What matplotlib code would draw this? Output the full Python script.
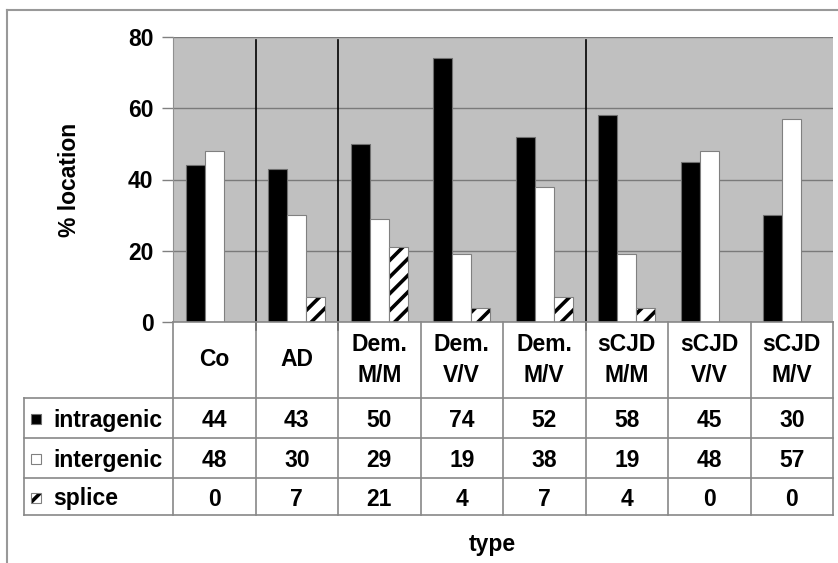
import matplotlib.pyplot as plt
import numpy as np

plt.rcParams['font.family'] = ['Liberation Sans', 'DejaVu Sans']
plt.rcParams['font.weight'] = 'bold'
plt.rcParams['hatch.linewidth'] = 2.6

types = ["Co", "AD", "Dem.\nM/M", "Dem.\nV/V", "Dem.\nM/V", "sCJD\nM/M", "sCJD\nV/V", "sCJD\nM/V"]
intragenic = [44, 43, 50, 74, 52, 58, 45, 30]
intergenic = [48, 30, 29, 19, 38, 19, 48, 57]
splice = [0, 7, 21, 4, 7, 4, 0, 0]
series_names = ["intragenic", "intergenic", "splice"]
separators = [0.5, 1.5, 4.5]

W, H = 838, 563
FS = 16.5
fig = plt.figure(figsize=(W / 100, H / 100), dpi=100)

def px_axes(x0, y0, x1, y1):
    # pixel box (top-left origin) -> figure axes
    return fig.add_axes([x0 / W, 1 - y1 / H, (x1 - x0) / W, (y1 - y0) / H])

# outer frame (cropped at right/bottom)
frame = fig.add_axes([0, 0, 1, 1], zorder=-5)
frame.set_xlim(0, W)
frame.set_ylim(H, 0)
frame.axis('off')
frame.plot([7, W], [10, 10], color='#999999', lw=1.5)
frame.plot([7, 7], [10, H], color='#999999', lw=1.5)

# ------------------------------------------------------
# bar chart
# ------------------------------------------------------
ax = px_axes(173, 37, 833, 322)
ax.set_facecolor('#c0c0c0')
x = np.arange(len(types))
bw = 0.23
faces = ['black', 'white', 'white']
edges = ['#707070', '#808080', '#808080']
hatches = [None, None, '//']
for i, vals in enumerate([intragenic, intergenic, splice]):
    shown = [v > 0 for v in vals]
    xs = (x + (i - 1) * bw)[shown]
    vs = np.array(vals)[shown]
    if hatches[i]:
        # hatch drawn in black, outline in grey on top
        ax.bar(xs, vs, bw, facecolor='white', edgecolor='black', hatch=hatches[i],
               linewidth=0, zorder=3)
        ax.bar(xs, vs, bw, facecolor='none', edgecolor=edges[i], linewidth=0.8, zorder=3.5)
    else:
        ax.bar(xs, vs, bw, facecolor=faces[i], edgecolor=edges[i], linewidth=0.8, zorder=3)

ax.set_xlim(-0.5, len(types) - 0.5)
ax.set_ylim(0, 80)
ax.set_yticks([0, 20, 40, 60, 80])
ax.tick_params(axis='y', labelsize=FS, color='#808080', length=8, width=1, pad=6)
ax.set_xticks([])
ax.grid(axis='y', color='#7a7a7a', linewidth=1, zorder=1)
for s in ['top', 'right', 'bottom']:
    ax.spines[s].set_visible(False)
ax.spines['left'].set_color('#909090')
ax.set_ylabel("% location", fontsize=FS, fontweight='bold')
ax.yaxis.set_label_coords(-0.140, 0.5)

for sx in separators:
    ax.plot([sx, sx], [79.2, -2.3], color='black', lw=1.2, clip_on=False, zorder=4)

# ------------------------------------------------------
# data table
# ------------------------------------------------------
tax = px_axes(24, 322, 833, 515)
lab_w = 149 / 82.5
tax.set_xlim(-0.5 - lab_w, len(types) - 0.5)
tax.set_ylim(193, 0)
tax.axis('off')
gc = '#888888'
row_y = [0, 76, 116, 156, 193]
x_left = -0.5 - lab_w
tax.plot([-0.5, len(types) - 0.5], [0, 0], color=gc, lw=1.2, clip_on=False)
for yy in row_y[1:]:
    tax.plot([x_left, len(types) - 0.5], [yy, yy], color=gc, lw=1.2, clip_on=False)
for k in range(len(types) + 1):
    tax.plot([k - 0.5, k - 0.5], [0, 193], color=gc, lw=1.2, clip_on=False)
tax.plot([x_left, x_left], [76, 193], color=gc, lw=1.2, clip_on=False)

for k, t in enumerate(types):
    tax.text(k, 38, t, ha='center', va='center', fontsize=FS, fontweight='bold',
             linespacing=1.4)

rows = [intragenic, intergenic, splice]
for r, (name, vals) in enumerate(zip(series_names, rows)):
    yc = (row_y[r + 1] + row_y[r + 2]) / 2
    for k, v in enumerate(vals):
        tax.text(k, yc + 2.5, str(v), ha='center', va='center', fontsize=FS, fontweight='bold')
    tax.text(x_left + 29 / 82.5, yc + 2.5, name, ha='left', va='center', fontsize=FS,
             fontweight='bold')
    # legend key
    kx = x_left + 7 / 82.5
    kw = 10 / 82.5
    if hatches[r]:
        tax.add_patch(plt.Rectangle((kx, yc - 4), kw, 10, facecolor='white', edgecolor='black',
                                    hatch=hatches[r], linewidth=0, clip_on=False))
    tax.add_patch(plt.Rectangle((kx, yc - 4), kw, 10, facecolor=faces[r] if not hatches[r] else 'none',
                                edgecolor=edges[r], linewidth=0.8, clip_on=False))

fig.text(492 / W, 1 - 545 / H, "type", ha='center', va='center', fontsize=FS, fontweight='bold')

fig.savefig("out.png", dpi=100, facecolor='white')
